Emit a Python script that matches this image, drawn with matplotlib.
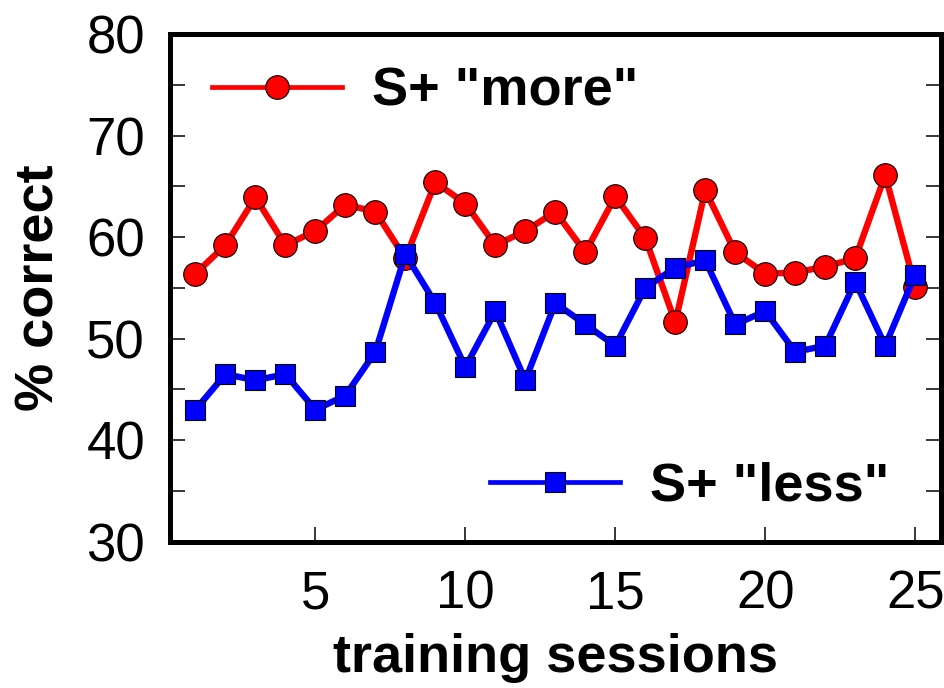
import matplotlib.pyplot as plt
from matplotlib.lines import Line2D
from matplotlib.ticker import MultipleLocator

# percent correct per training session
sessions = list(range(1, 26))
more_pct = [56.4, 59.2, 63.9, 59.2, 60.6, 63.2, 62.5, 57.9, 65.4, 63.3,
            59.2, 60.6, 62.5, 58.5, 64.0, 59.9, 51.6, 64.6, 58.5, 56.4,
            56.5, 57.1, 57.9, 66.1, 55.1]
less_pct = [43.0, 46.5, 45.9, 46.5, 43.0, 44.4, 48.7, 58.3, 53.5, 47.2,
            52.7, 45.9, 53.5, 51.4, 49.3, 55.0, 57.0, 57.7, 51.4, 52.7,
            48.7, 49.3, 55.6, 49.3, 56.3]
more_label = 'S+ "more"'
less_label = 'S+ "less"'

plt.rcParams['font.family'] = ['Liberation Sans', 'DejaVu Sans']

fig = plt.figure(figsize=(9.44, 6.88), dpi=100)
ax = fig.add_axes([0.180, 0.2126, 0.8165, 0.738])

red_style = dict(color='#ff0000', marker='o', ms=17,
                 mfc='#ff0000', mec='black', mew=0.8)
blue_style = dict(color='#0000ff', marker='s', ms=15,
                  mfc='#0000ff', mec='black', mew=0.8)

ax.plot(sessions, more_pct, lw=4.6, zorder=3, **red_style)
ax.plot(sessions, less_pct, lw=4.6, zorder=4, **blue_style)

ax.set_xlim(0.15, 25.85)
ax.set_ylim(30, 80)
ax.set_xticks([5, 10, 15, 20, 25])
ax.set_yticks([30, 40, 50, 60, 70, 80])
ax.yaxis.set_minor_locator(MultipleLocator(5))

for s in ax.spines.values():
    s.set_linewidth(3.6)

ax.tick_params(axis='both', which='both', direction='in', length=11,
               width=1.1, labelsize=38)
ax.tick_params(axis='y', which='both', left=True, right=True, pad=18)
ax.tick_params(axis='x', which='both', top=False, pad=20)

ax.set_xlabel('training sessions', fontsize=39, fontweight='bold', labelpad=10)
ax.set_ylabel('% correct', fontsize=39, fontweight='bold', labelpad=16)

# legend handles: thinner line than the data traces
h_more = Line2D([], [], lw=3.4, **red_style)
h_less = Line2D([], [], lw=3.4, **blue_style)
leg1 = ax.legend([h_more], [more_label], loc='center left',
                 bbox_to_anchor=(0.0545, 0.886), frameon=False, borderpad=0,
                 borderaxespad=0, handlelength=2.4, handletextpad=0.55,
                 prop=dict(size=39, weight='bold'))
ax.add_artist(leg1)
ax.legend([h_less], [less_label], loc='center left',
          bbox_to_anchor=(0.415, 0.108), frameon=False, borderpad=0,
          borderaxespad=0, handlelength=2.4, handletextpad=0.55,
          prop=dict(size=39, weight='bold'))

fig.savefig('out.png', dpi=100)
